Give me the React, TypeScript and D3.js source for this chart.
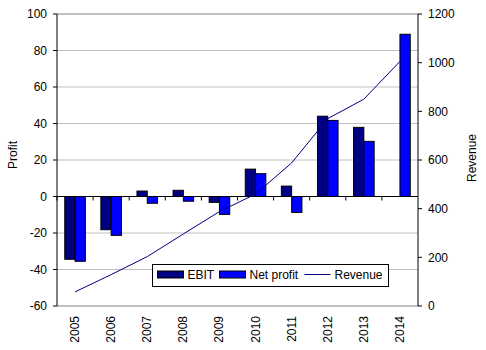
import React from "react";
import * as d3 from "d3";

const years = ["2005", "2006", "2007", "2008", "2009", "2010", "2011", "2012", "2013", "2014"];
const ebit: (number | null)[] = [-34.4, -18.2, 3, 3.4, -3.2, 15, 5.7, 44, 37.9, null];
const netProfit = [-35.5, -21.3, -3.7, -2.6, -9.8, 12.5, -8.7, 41.7, 30.2, 88.9];
const revenue = [58, 129, 203, 296, 388, 460, 588, 770, 850, 1005];
const profitTicks = [-60, -40, -20, 0, 20, 40, 60, 80, 100];
const revenueTicks = [0, 200, 400, 600, 800, 1000, 1200];

const W = 486;
const H = 350;
const plot = { left: 57, right: 418, top: 14, bottom: 306 };
const font = "'Liberation Sans', Arial, sans-serif";

export default function App() {
  const x = d3.scaleBand<string>().domain(years).range([plot.left, plot.right]);
  const yL = d3.scaleLinear().domain([-60, 100]).range([plot.bottom, plot.top]);
  const yR = d3.scaleLinear().domain([0, 1200]).range([plot.bottom, plot.top]);

  const bw = x.bandwidth();
  const barW = bw * 0.285;
  const groupStart = (bw - 2 * barW) / 2;

  const revLine = d3
    .line<number>()
    .x((_, i) => (x(years[i]) as number) + bw / 2)
    .y((d) => yR(d));

  const bar = (v: number | null, i: number, k: number, fill: string) => {
    if (v === null) return null;
    const x0 = (x(years[i]) as number) + groupStart + k * barW;
    const y0 = Math.min(yL(0), yL(v));
    const h = Math.abs(yL(v) - yL(0));
    return (
      <rect key={`${k}-${i}`} x={x0} y={y0} width={barW} height={h} fill={fill} stroke="#000" strokeWidth={1} />
    );
  };

  return (
    <svg width={W} height={H} style={{ position: "absolute", left: 0, top: 0, background: "#fff" }} fontFamily={font}>
      {/* grid */}
      {profitTicks.filter((t) => t !== 0 && t !== 100 && t !== -60).map((t) => (
        <line key={t} x1={plot.left} x2={plot.right} y1={yL(t)} y2={yL(t)} stroke="#c0c0c0" />
      ))}
      <line x1={plot.left} x2={plot.right} y1={yL(100)} y2={yL(100)} stroke="#808080" />
      <line x1={plot.left} x2={plot.right} y1={yL(-60)} y2={yL(-60)} stroke="#808080" />

      {/* bars */}
      {ebit.map((v, i) => bar(v, i, 0, "#000080"))}
      {netProfit.map((v, i) => bar(v, i, 1, "#0000ff"))}

      {/* zero line with category ticks */}
      <line x1={plot.left} x2={plot.right} y1={yL(0)} y2={yL(0)} stroke="#000" />
      {years.map((y) => (
        <line key={y} x1={x(y) as number} x2={x(y) as number} y1={yL(0)} y2={yL(0) + 4} stroke="#000" />
      ))}

      {/* revenue line */}
      <path d={revLine(revenue) as string} fill="none" stroke="#000080" strokeWidth={1} />

      {/* left axis */}
      <line x1={plot.left} x2={plot.left} y1={plot.top} y2={plot.bottom} stroke="#000" />
      {profitTicks.map((t) => (
        <g key={t}>
          <line x1={plot.left - 4} x2={plot.left} y1={yL(t)} y2={yL(t)} stroke="#000" />
          <text x={plot.left - 10} y={yL(t)} dy="0.35em" textAnchor="end" fontSize={12}>
            {t}
          </text>
        </g>
      ))}
      <text transform={`translate(17,155) rotate(-90)`} textAnchor="middle" fontSize={12}>
        Profit
      </text>

      {/* right axis */}
      <line x1={plot.right} x2={plot.right} y1={plot.top} y2={plot.bottom} stroke="#000" />
      {revenueTicks.map((t) => (
        <g key={t}>
          <line x1={plot.right} x2={plot.right + 4} y1={yR(t)} y2={yR(t)} stroke="#000" />
          <text x={plot.right + 10} y={yR(t)} dy="0.35em" textAnchor="start" fontSize={12}>
            {t}
          </text>
        </g>
      ))}
      <text transform={`translate(476,158) rotate(-90)`} textAnchor="middle" fontSize={12}>
        Revenue
      </text>

      {/* year labels */}
      {years.map((y) => (
        <text
          key={y}
          transform={`translate(${(x(y) as number) + bw / 2 + 4},${plot.bottom + 10}) rotate(-90)`}
          textAnchor="end"
          fontSize={12}
        >
          {y}
        </text>
      ))}

      {/* legend */}
      <g>
        <rect x={152.5} y={264.5} width={236} height={22} fill="#fff" stroke="#000" />
        <rect x={157.5} y={271} width={26} height={7} fill="#000080" stroke="#000" />
        <text x={187.5} y={275} dy="0.35em" fontSize={12}>EBIT</text>
        <rect x={219.5} y={271} width={26} height={7} fill="#0000ff" stroke="#000" />
        <text x={249.5} y={275} dy="0.35em" fontSize={12}>Net profit</text>
        <line x1={304.5} x2={330.5} y1={274.5} y2={274.5} stroke="#000080" />
        <text x={334.5} y={275} dy="0.35em" fontSize={12}>Revenue</text>
      </g>
    </svg>
  );
}
